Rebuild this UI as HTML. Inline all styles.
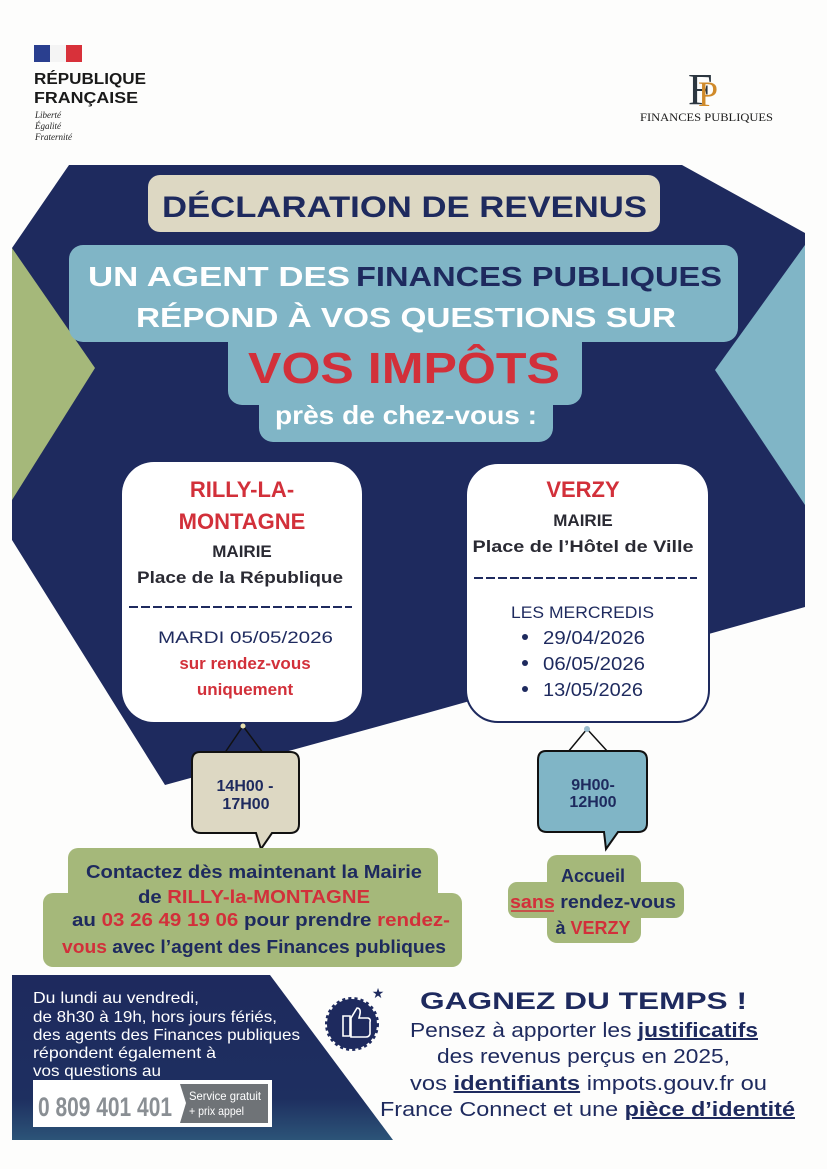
<!DOCTYPE html>
<html><head><meta charset="utf-8"><style>
html,body{margin:0;padding:0;background:#fff}
svg{display:block}
text{font-family:"Liberation Sans",sans-serif}
</style></head><body>
<svg width="827" height="1169" viewBox="0 0 827 1169" xmlns="http://www.w3.org/2000/svg">
<rect width="827" height="1169" fill="#fdfdfc"/>
<!-- header -->
<rect x="34" y="45" width="16" height="17" fill="#2a3f8f"/>
<rect x="50" y="45" width="16" height="17" fill="#f4f4f4"/>
<rect x="66" y="45" width="16" height="17" fill="#d8313a"/>
<text x="34" y="84" font-size="16" font-weight="bold" fill="#1a1a1a" textLength="112" lengthAdjust="spacingAndGlyphs">RÉPUBLIQUE</text>
<text x="34" y="103" font-size="16" font-weight="bold" fill="#1a1a1a" textLength="104" lengthAdjust="spacingAndGlyphs">FRANÇAISE</text>
<text x="35" y="118" font-size="9" font-style="italic" fill="#222" style="font-family:'Liberation Serif',serif">Liberté</text>
<text x="35" y="129" font-size="9" font-style="italic" fill="#222" style="font-family:'Liberation Serif',serif">Égalité</text>
<text x="35" y="140" font-size="9" font-style="italic" fill="#222" style="font-family:'Liberation Serif',serif">Fraternité</text>
<text x="688" y="104" font-size="44" fill="#2c3640" style="font-family:'Liberation Serif',serif">F</text>
<text x="698" y="106" font-size="36" fill="#d08a2a" style="font-family:'Liberation Serif',serif">P</text>
<text x="640" y="121" font-size="12" fill="#1a1a1a" textLength="133" lengthAdjust="spacingAndGlyphs" style="font-family:'Liberation Serif',serif">FINANCES PUBLIQUES</text>

<!-- background shapes -->
<polygon points="69,165 682,165 805,233 805,607 427,713 165,785 12,540 12,248" fill="#1e2a5e"/>
<polygon points="12,248 95,368 12,500" fill="#a5b87a"/>
<polygon points="805,245 715,370 805,505" fill="#80b5c6"/>

<!-- title -->
<rect x="148" y="175" width="512" height="57" rx="12" fill="#ddd8c3"/>
<text x="162" y="217" font-size="30" font-weight="bold" fill="#1e2a5e" textLength="485" lengthAdjust="spacingAndGlyphs">DÉCLARATION DE REVENUS</text>

<!-- light blue stepped -->
<rect x="69" y="245" width="669" height="97" rx="14" fill="#80b5c6"/>
<rect x="228" y="320" width="354" height="85" rx="14" fill="#80b5c6"/>
<rect x="259" y="380" width="294" height="62" rx="14" fill="#80b5c6"/>
<text x="88" y="286" font-size="28" font-weight="bold" fill="#fff" textLength="262" lengthAdjust="spacingAndGlyphs">UN AGENT DES</text>
<text x="356" y="286" font-size="28" font-weight="bold" fill="#1e2a5e" textLength="366" lengthAdjust="spacingAndGlyphs">FINANCES PUBLIQUES</text>
<text x="136" y="327" font-size="28" font-weight="bold" fill="#fff" textLength="540" lengthAdjust="spacingAndGlyphs">RÉPOND À VOS QUESTIONS SUR</text>
<text x="248" y="383" font-size="44" font-weight="bold" fill="#d2303a" textLength="312" lengthAdjust="spacingAndGlyphs">VOS IMPÔTS</text>
<text x="275" y="424" font-size="26" font-weight="bold" fill="#fff" textLength="262" lengthAdjust="spacingAndGlyphs">près de chez-vous :</text>

<!-- cards -->
<rect x="122" y="462" width="240" height="260" rx="32" fill="#fff"/>
<rect x="466" y="463" width="243" height="259" rx="32" fill="#fff" stroke="#1e2a5e" stroke-width="2"/>
<g font-weight="bold" text-anchor="middle">
<text x="242" y="497" font-size="22" fill="#d2303a">RILLY-LA-</text>
<text x="242" y="529" font-size="22" fill="#d2303a">MONTAGNE</text>
<text x="242" y="557" font-size="17" fill="#2a2a33">MAIRIE</text>
<text x="240" y="583" font-size="17" fill="#2a2a33" textLength="206" lengthAdjust="spacingAndGlyphs">Place de la République</text>
<text x="583" y="497" font-size="22" fill="#d2303a">VERZY</text>
<text x="583" y="526" font-size="17" fill="#2a2a33">MAIRIE</text>
<text x="583" y="552" font-size="17" fill="#2a2a33" textLength="221" lengthAdjust="spacingAndGlyphs">Place de l’Hôtel de Ville</text>
<text x="245" y="669" font-size="17" fill="#d2303a">sur rendez-vous</text>
<text x="245" y="695" font-size="17" fill="#d2303a">uniquement</text>
</g>
<line x1="129" y1="607" x2="352" y2="607" stroke="#1e2a5e" stroke-width="2" stroke-dasharray="9,3"/>
<line x1="474" y1="578" x2="697" y2="578" stroke="#1e2a5e" stroke-width="2" stroke-dasharray="9,3"/>
<text x="158" y="643" font-size="17" fill="#1e2a5e" textLength="175" lengthAdjust="spacingAndGlyphs">MARDI  05/05/2026</text>
<text x="511" y="618" font-size="17" fill="#1e2a5e" textLength="143" lengthAdjust="spacingAndGlyphs">LES MERCREDIS</text>
<g fill="#1e2a5e" font-size="18">
<circle cx="525" cy="637" r="3"/><text x="543" y="644" textLength="102" lengthAdjust="spacingAndGlyphs">29/04/2026</text>
<circle cx="525" cy="663" r="3"/><text x="543" y="670" textLength="102" lengthAdjust="spacingAndGlyphs">06/05/2026</text>
<circle cx="525" cy="689" r="3"/><text x="543" y="696" textLength="100" lengthAdjust="spacingAndGlyphs">13/05/2026</text>
</g>

<!-- hanging signs -->
<g stroke="#111" stroke-width="1.5" fill="none">
<polyline points="222,757 243,726 266,757"/>
<polyline points="568,752 587,729 608,752"/>
</g>
<circle cx="243" cy="726" r="2.5" fill="#e8e0b0"/>
<circle cx="587" cy="729" r="3" fill="#9bc"/>
<path d="M200,752 H290 Q299,752 299,761 V824 Q299,833 290,833 H272 L261,849 L256,833 H201 Q192,833 192,824 V761 Q192,752 200,752 Z" fill="#ddd8c3" stroke="#111" stroke-width="2"/>
<path d="M546,751 H638 Q647,751 647,760 V823 Q647,832 638,832 H618 L606,849 L604,832 H547 Q538,832 538,823 V760 Q538,751 546,751 Z" fill="#80b5c6" stroke="#111" stroke-width="2"/>
<g font-weight="bold" fill="#1e2a5e" font-size="16" text-anchor="middle">
<text x="245" y="791">14H00 -</text><text x="246" y="809">17H00</text>
<text x="593" y="790">9H00-</text><text x="593" y="807">12H00</text>
</g>

<!-- green boxes -->
<rect x="68" y="848" width="370" height="55" rx="10" fill="#a5b87a"/>
<rect x="43" y="893" width="419" height="74" rx="10" fill="#a5b87a"/>
<g font-weight="bold" font-size="18" fill="#1e2a5e">
<text x="86" y="878" textLength="336" lengthAdjust="spacingAndGlyphs">Contactez dès maintenant la Mairie</text>
<text x="138" y="903" textLength="232" lengthAdjust="spacingAndGlyphs">de <tspan fill="#d2303a">RILLY-la-MONTAGNE</tspan></text>
<text x="72" y="926" textLength="378" lengthAdjust="spacingAndGlyphs">au <tspan fill="#d2303a">03 26 49 19 06</tspan> pour prendre <tspan fill="#d2303a">rendez-</tspan></text>
<text x="62" y="953" textLength="384" lengthAdjust="spacingAndGlyphs"><tspan fill="#d2303a">vous</tspan> avec l’agent des Finances publiques</text>
</g>
<rect x="547" y="855" width="94" height="88" rx="10" fill="#a5b87a"/>
<rect x="508" y="882" width="176" height="36" rx="9" fill="#a5b87a"/>
<g font-weight="bold" font-size="18" fill="#1e2a5e" text-anchor="middle">
<text x="593" y="882">Accueil</text>
<text x="593" y="908" textLength="166" lengthAdjust="spacingAndGlyphs"><tspan fill="#d2303a">sans</tspan> rendez-vous</text>
<text x="593" y="934">à <tspan fill="#d2303a">VERZY</tspan></text>
</g>
<line x1="511" y1="911" x2="554" y2="911" stroke="#d2303a" stroke-width="1.5"/>

<!-- bottom left panel -->
<defs><linearGradient id="g" x1="0" y1="0" x2="0" y2="1"><stop offset="0" stop-color="#1e2a5e"/><stop offset="0.75" stop-color="#1e2f60"/><stop offset="1" stop-color="#2c5478"/></linearGradient></defs>
<polygon points="12,975 270,975 393,1140 12,1140" fill="url(#g)"/>
<g fill="#fff" font-size="16">
<text x="33" y="1003" textLength="166" lengthAdjust="spacingAndGlyphs">Du lundi au vendredi,</text>
<text x="33" y="1022" textLength="244" lengthAdjust="spacingAndGlyphs">de 8h30 à 19h, hors jours fériés,</text>
<text x="33" y="1040" textLength="267" lengthAdjust="spacingAndGlyphs">des agents des Finances publiques</text>
<text x="33" y="1058" textLength="183" lengthAdjust="spacingAndGlyphs">répondent également à</text>
<text x="33" y="1076" textLength="128" lengthAdjust="spacingAndGlyphs">vos questions au</text>
</g>
<rect x="33" y="1080" width="239" height="47" fill="#fff"/>
<text x="38" y="1116" font-size="27" font-weight="bold" fill="#8a8f94" textLength="134" lengthAdjust="spacingAndGlyphs">0 809 401 401</text>
<path d="M180,1084 H268 V1123 H180 L186,1103 Z" fill="#6f7377"/>
<text x="189" y="1100" font-size="12" fill="#fff" textLength="72" lengthAdjust="spacingAndGlyphs">Service gratuit</text>
<text x="189" y="1115" font-size="12" fill="#fff" textLength="55" lengthAdjust="spacingAndGlyphs">+ prix appel</text>

<!-- thumb badge -->
<circle cx="352" cy="1024" r="25" fill="#1e2a5e" stroke="#1e2a5e" stroke-width="4" stroke-dasharray="3,3"/>
<path d="M343,1016 h7 v20 h-7 z M351,1018 l6,-10 q4,0 3,6 l-1,4 h9 q3,1 2,4 v12 q-1,3 -4,3 h-15 z" fill="none" stroke="#fff" stroke-width="1.6"/>
<text x="378" y="998" font-size="14" fill="#1e2a5e" text-anchor="middle">★</text>

<!-- right text -->
<text x="420" y="1009" font-size="24" font-weight="bold" fill="#1e2a5e" textLength="327" lengthAdjust="spacingAndGlyphs">GAGNEZ DU TEMPS !</text>
<g fill="#1e2a5e" font-size="20">
<text x="410" y="1037" textLength="348" lengthAdjust="spacingAndGlyphs">Pensez à apporter les <tspan font-weight="bold" text-decoration="underline">justificatifs</tspan></text>
<text x="437" y="1063" textLength="293" lengthAdjust="spacingAndGlyphs">des revenus perçus en 2025,</text>
<text x="410" y="1090" textLength="357" lengthAdjust="spacingAndGlyphs">vos <tspan font-weight="bold" text-decoration="underline">identifiants</tspan> impots.gouv.fr ou</text>
<text x="380" y="1116" textLength="415" lengthAdjust="spacingAndGlyphs">France Connect et une <tspan font-weight="bold" text-decoration="underline">pièce d’identité</tspan></text>
</g>
</svg>
</body></html>
